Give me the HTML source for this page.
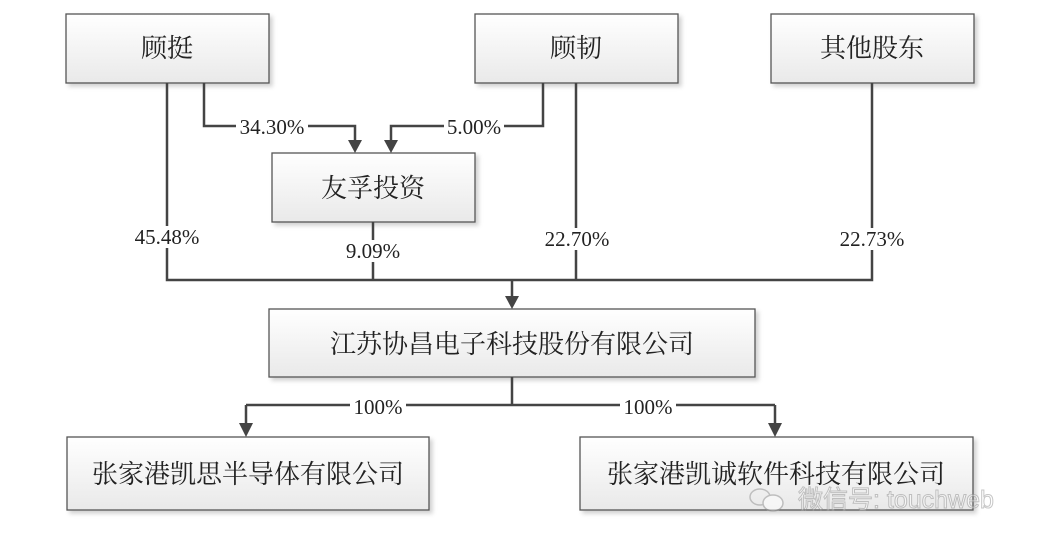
<!DOCTYPE html>
<html><head><meta charset="utf-8"><style>
html,body{margin:0;padding:0;background:#fff;}
svg{display:block}
.cj{font-family:"Liberation Serif","Noto Serif CJK SC",serif;font-size:26px;fill:#222;}
.n{font-family:"Liberation Serif",serif;font-size:21px;fill:#222;}
</style></head><body>
<svg width="1045" height="547" viewBox="0 0 1045 547" xmlns="http://www.w3.org/2000/svg">
<defs>
<linearGradient id="g" x1="0" y1="0" x2="0" y2="1">
<stop offset="0" stop-color="#ffffff"/><stop offset="1" stop-color="#e9e9e9"/>
</linearGradient>
<filter id="s" x="-5%" y="-10%" width="115%" height="130%"><feDropShadow dx="3" dy="3" stdDeviation="2" flood-color="#000" flood-opacity="0.18"/></filter>
</defs>
<g fill="url(#g)" stroke="#555" stroke-width="1.3" filter="url(#s)">
<rect x="66" y="14" width="203" height="69"/>
<rect x="475" y="14" width="203" height="69"/>
<rect x="771" y="14" width="203" height="69"/>
<rect x="272" y="153" width="203" height="69"/>
<rect x="269" y="309" width="486" height="68"/>
<rect x="67" y="437" width="362" height="73"/>
<rect x="580" y="437" width="393" height="73"/>
</g>
<g fill="none" stroke="#444" stroke-width="2.5">
<path d="M167 83V280H872V83"/>
<path d="M576 83V280"/>
<path d="M373 222V280"/>
<path d="M512 280V297"/>
<path d="M204 83V126H355V141"/>
<path d="M543 83V126H391V141"/>
<path d="M512 377V405M246 405H775M246 405V424M775 405V424"/>
</g>
<g fill="#444">
<path d="M505 296h14l-7 13z"/>
<path d="M348 140h14l-7 13z"/>
<path d="M384 140h14l-7 13z"/>
<path d="M239 423h14l-7 14z"/>
<path d="M768 423h14l-7 14z"/>
</g>
<g fill="#fff">
<rect x="236" y="115" width="72" height="22"/>
<rect x="444" y="115" width="60" height="22"/>
<rect x="129" y="226" width="76" height="22"/>
<rect x="341" y="240" width="64" height="22"/>
<rect x="541" y="228" width="74" height="22"/>
<rect x="834" y="228" width="76" height="22"/>
<rect x="350" y="396" width="56" height="20"/>
<rect x="620" y="396" width="56" height="20"/>
</g>
<g class="n" text-anchor="middle">
<text x="272" y="134">34.30%</text>
<text x="474" y="134">5.00%</text>
<text x="167" y="244">45.48%</text>
<text x="373" y="258">9.09%</text>
<text x="577" y="246">22.70%</text>
<text x="872" y="246">22.73%</text>
<text x="378" y="414">100%</text>
<text x="648" y="414">100%</text>
</g>
<g class="cj" text-anchor="middle">
<text x="167" y="57">顾挺</text>
<text x="576" y="57">顾韧</text>
<text x="872" y="57">其他股东</text>
<text x="373" y="197">友孚投资</text>
<text x="512" y="353">江苏协昌电子科技股份有限公司</text>
<text x="248" y="483">张家港凯思半导体有限公司</text>
<text x="776" y="483">张家港凯诚软件科技有限公司</text>
</g>
<g opacity="0.55">
<ellipse cx="760" cy="497" rx="10" ry="8" fill="none" stroke="#999" stroke-width="1.5"/>
<ellipse cx="773" cy="503" rx="10" ry="8" fill="#fff" stroke="#999" stroke-width="1.5"/>
<text x="798" y="508" style="font-family:'Liberation Sans','Noto Sans CJK SC',sans-serif;font-size:25px;fill:#fff;stroke:#999;stroke-width:1">微信号: touchweb</text>
</g>
</svg>
</body></html>
